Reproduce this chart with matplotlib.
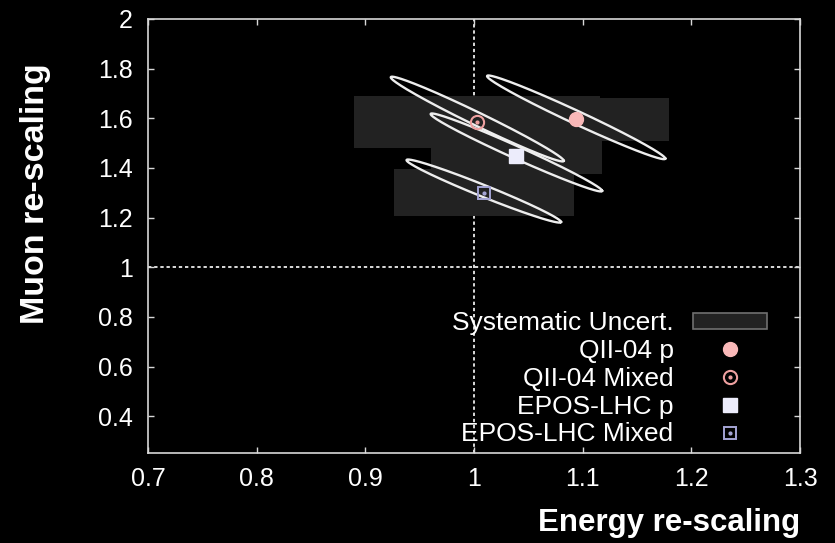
import numpy as np
import matplotlib
matplotlib.use("Agg")
import matplotlib.pyplot as plt
from matplotlib.patches import Patch
from matplotlib.lines import Line2D
from matplotlib.ticker import FuncFormatter

plt.rcParams.update({
    "font.family": ["Liberation Sans", "DejaVu Sans"],
    "text.color": "white",
    "axes.edgecolor": "#d8d8d8",
    "xtick.color": "#d8d8d8",
    "ytick.color": "#d8d8d8",
    "xtick.labelcolor": "white",
    "ytick.labelcolor": "white",
})

# ── Best-fit rescaling factors per model / composition ─────────────────────
MODELS = ["QII-04 p", "QII-04 Mixed", "EPOS-LHC p", "EPOS-LHC Mixed"]
ENERGY_FIT = [1.094, 1.003, 1.039, 1.009]
MUON_FIT = [1.596, 1.585, 1.448, 1.300]

# systematic half-widths (energy) and half-heights (muon)
SYS_ENERGY = [0.0855, 0.113, 0.079, 0.083]
SYS_MUON = [0.0875, 0.104, 0.0706, 0.094]

# 1-sigma statistical contours: centre, widths, correlation
CONTOUR_ENERGY = [1.094, 1.003, 1.039, 1.009]
CONTOUR_MUON = [1.604, 1.597, 1.4625, 1.307]
SIGMA_ENERGY = [0.082, 0.0796, 0.0789, 0.0711]
SIGMA_MUON = [0.1685, 0.1706, 0.157, 0.127]
RHO = [-0.985, -0.985, -0.985, -0.98]

X_TICKS = [0.7, 0.8, 0.9, 1.0, 1.1, 1.2, 1.3]
Y_TICKS = [0.4, 0.6, 0.8, 1.0, 1.2, 1.4, 1.6, 1.8, 2.0]

PINK = "#f9b8b8"
PINK_EDGE = "#eea0a0"
LAVENDER = "#ececfb"
LAVENDER_EDGE = "#a4a4d4"
SYS_GREY = "#222222"


def main() -> None:
    fig = plt.figure(figsize=(8.35, 5.43), dpi=100, facecolor="black")
    ax = fig.add_axes([0.17725, 0.16483, 0.78084, 0.80018])
    ax.set_facecolor("black")

    # reference lines at no rescaling
    dash = (0, (2.0, 1.7))
    ax.axvline(1.0, color="white", lw=1.2, ls=dash, zorder=1)
    ax.axhline(1.0, color="white", lw=1.2, ls=dash, zorder=1)

    # systematic uncertainty boxes
    e = np.array(ENERGY_FIT)
    m = np.array(MUON_FIT)
    se = np.array(SYS_ENERGY)
    sm = np.array(SYS_MUON)
    ax.bar(e, 2 * sm, width=2 * se, bottom=m - sm, color=SYS_GREY,
           linewidth=0, zorder=2)

    # correlated 1-sigma contours
    t = np.linspace(0, 2 * np.pi, 400)
    for cx, cy, sx, sy, r in zip(CONTOUR_ENERGY, CONTOUR_MUON,
                                 SIGMA_ENERGY, SIGMA_MUON, RHO):
        phi = np.arccos(r)
        ax.plot(cx + sx * np.cos(t), cy + sy * np.cos(t + phi),
                color="#eeeeee", lw=1.7, zorder=3)

    # best-fit markers
    ax.plot(e[0], m[0], "o", ms=10, mfc=PINK, mec=PINK, zorder=5)
    ax.plot(e[1], m[1], "o", ms=9.5, mfc="none", mec=PINK_EDGE, mew=1.5, zorder=5)
    ax.plot(e[1], m[1], ".", ms=4, color=PINK_EDGE, zorder=5)
    ax.plot(e[2], m[2], "s", ms=10.5, mfc=LAVENDER, mec=LAVENDER, zorder=5)
    ax.plot(e[3], m[3], "s", ms=9, mfc="none", mec=LAVENDER_EDGE, mew=1.4, zorder=5)
    ax.plot(e[3], m[3], ".", ms=4, color=LAVENDER_EDGE, zorder=5)

    ax.set_xlim(0.7, 1.3)
    ax.set_ylim(0.25, 2.0)
    ax.set_xticks(X_TICKS)
    ax.set_yticks(Y_TICKS)
    fmt = FuncFormatter(lambda v, _: f"{v:g}")
    ax.xaxis.set_major_formatter(fmt)
    ax.yaxis.set_major_formatter(fmt)
    ax.tick_params(direction="in", length=4.5, width=1.0, top=True, right=True,
                   labelsize=18)
    ax.tick_params(axis="x", pad=10)
    ax.tick_params(axis="y", pad=11)
    for spine in ax.spines.values():
        spine.set_linewidth(1.2)

    # legend
    h_sys = Patch(facecolor=SYS_GREY, edgecolor="#707070", lw=1.2)
    h_qp = Line2D([], [], ls="none", marker="o", ms=10, mfc=PINK, mec=PINK)
    h_qm = (Line2D([], [], ls="none", marker="o", ms=9.5, mfc="none",
                   mec=PINK_EDGE, mew=1.5),
            Line2D([], [], ls="none", marker=".", ms=4, color=PINK_EDGE))
    h_ep = Line2D([], [], ls="none", marker="s", ms=10.5, mfc=LAVENDER,
                  mec=LAVENDER)
    h_em = (Line2D([], [], ls="none", marker="s", ms=9, mfc="none",
                   mec=LAVENDER_EDGE, mew=1.4),
            Line2D([], [], ls="none", marker=".", ms=4, color=LAVENDER_EDGE))
    ax.legend([h_sys, h_qp, h_qm, h_ep, h_em],
              ["Systematic Uncert."] + MODELS,
              loc="lower right", bbox_to_anchor=(766.7 / 835, 0.178),
              bbox_transform=fig.transFigure, frameon=False, markerfirst=False,
              fontsize=19, handlelength=2.8, handleheight=0.57,
              handletextpad=0.73, labelspacing=0.145, borderpad=0,
              borderaxespad=0, labelcolor="white")

    fig.text(0.958, 0.0221, "Energy re-scaling", ha="right", va="baseline",
             fontsize=22.5, fontweight="bold", color="white")
    fig.text(0.043, 0.6436, "Muon re-scaling", ha="center", va="center",
             rotation=90, fontsize=24.5, fontweight="bold", color="white")

    fig.savefig("out.png", dpi=100, facecolor=fig.get_facecolor())
    plt.close(fig)


if __name__ == "__main__":
    main()
